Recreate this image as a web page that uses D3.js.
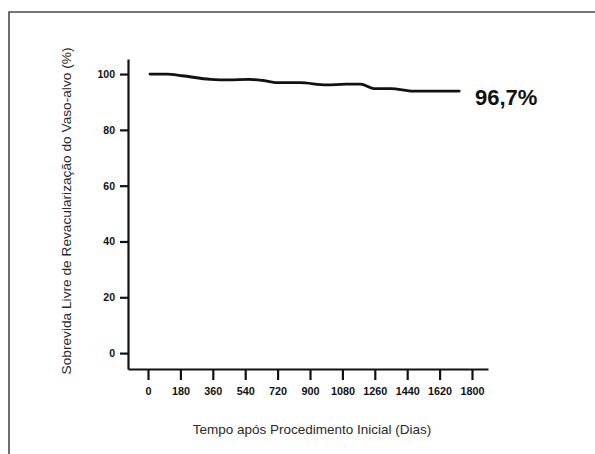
<!DOCTYPE html>
<html>
<head>
<meta charset="utf-8">
<script src="https://cdn.jsdelivr.net/npm/d3@7"></script>
<style>
  html, body { margin: 0; padding: 0; background: #fff; }
  svg { display: block; }
  text { font-family: "Liberation Sans", Arial, Helvetica, sans-serif; }
</style>
</head>
<body>
<svg id="chart" width="595" height="454"></svg>
<script>
// ---- Data ----
const days   = [11, 105, 190, 348, 450, 559, 640, 727, 843, 991, 1100, 1181, 1254, 1349, 1476, 1729];
const values = [100, 100, 99.4, 98.1, 97.9, 98.1, 97.7, 96.9, 96.9, 96.1, 96.4, 96.4, 94.8, 94.8, 93.9, 93.9];
const xTicks = [0, 180, 360, 540, 720, 900, 1080, 1260, 1440, 1620, 1800];
const yTicks = [0, 20, 40, 60, 80, 100];
const endLabel = "96,7%";
const xTitle = "Tempo após Procedimento Inicial (Dias)";
const yTitle = "Sobrevida Livre de Revacularização do Vaso-alvo (%)";

// ---- Layout ----
const svg = d3.select("#chart");
const x = d3.scaleLinear().domain([-111.1, 1888.9]).range([128, 488]);
const y = d3.scaleLinear().domain([-5.7, 105.4]).range([369, 59]);

// frame (top and left border only)
svg.append("path")
  .attr("d", "M9,454 L9,12 L595,12")
  .attr("fill", "none")
  .attr("stroke", "#4a4a4a")
  .attr("stroke-width", 1.6);

// x axis
const xAxis = d3.axisBottom(x).tickValues(xTicks).tickSize(11).tickSizeOuter(0).tickPadding(7)
  .tickFormat(d3.format("d"));
const gx = svg.append("g").attr("transform", `translate(0,${y.range()[0]})`).call(xAxis);
gx.select(".domain").attr("stroke", "#111").attr("stroke-width", 2.2);
gx.selectAll(".tick line").attr("stroke", "#111").attr("stroke-width", 2.2);
gx.selectAll(".tick text").attr("fill", "#111").attr("font-size", 10.8).attr("font-weight", "bold")
  .attr("font-family", "'Liberation Sans', Arial, sans-serif");

// y axis
const yAxis = d3.axisLeft(y).tickValues(yTicks).tickSize(8).tickSizeOuter(0).tickPadding(5)
  .tickFormat(d3.format("d"));
const gy = svg.append("g").attr("transform", `translate(${x.range()[0]},0)`).call(yAxis);
gy.select(".domain").attr("stroke", "#111").attr("stroke-width", 2.2);
gy.selectAll(".tick line").attr("stroke", "#111").attr("stroke-width", 2.2);
gy.selectAll(".tick text").attr("fill", "#111").attr("font-size", 10.5).attr("font-weight", "bold")
  .attr("font-family", "'Liberation Sans', Arial, sans-serif");

// survival line
const pts = days.map((d, i) => [d, values[i]]);
svg.append("path")
  .datum(pts)
  .attr("fill", "none")
  .attr("stroke", "#111")
  .attr("stroke-width", 2.8)
  .attr("stroke-linecap", "round")
  .attr("d", d3.line().x(d => x(d[0])).y(d => y(d[1])).curve(d3.curveMonotoneX));

// end label
svg.append("text")
  .attr("x", 475).attr("y", 105)
  .attr("font-size", 22).attr("font-weight", "bold").attr("fill", "#111")
  .text(endLabel);

// axis titles
svg.append("text")
  .attr("x", 312).attr("y", 434)
  .attr("text-anchor", "middle")
  .attr("font-size", 13.5).attr("fill", "#2a2a2a")
  .text(xTitle);

svg.append("text")
  .attr("transform", "translate(66,211) rotate(-90)")
  .attr("text-anchor", "middle").attr("dy", "0.35em")
  .attr("font-size", 13.7).attr("fill", "#2a2a2a")
  .text(yTitle);
</script>
</body>
</html>
